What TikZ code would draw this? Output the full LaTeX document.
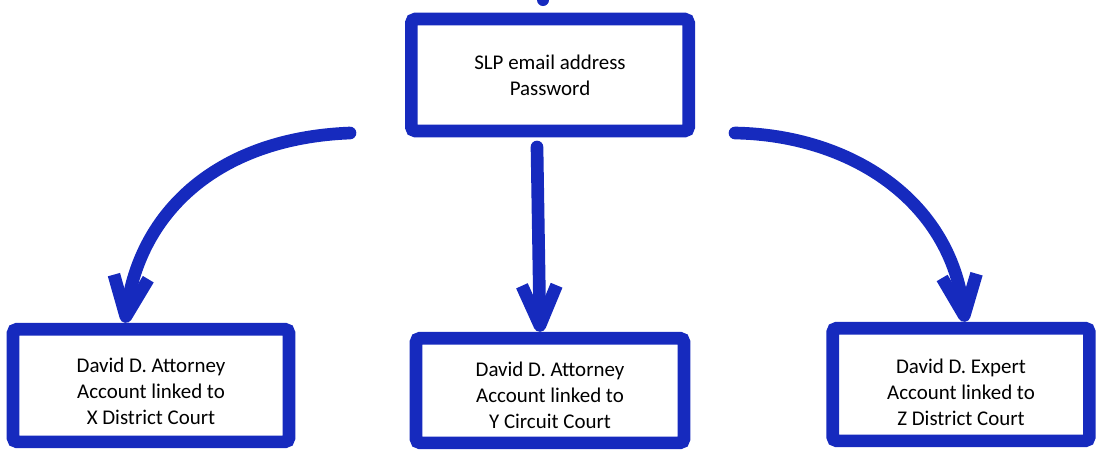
\documentclass[tikz,border=0pt]{standalone}
\usepackage{fontspec}
\setmainfont{Carlito}
\usetikzlibrary{arrows.meta}
\definecolor{inkblue}{RGB}{22,42,190}

\begin{document}
\begin{tikzpicture}[x=0.75pt,y=-0.75pt,
  link/.style={draw=inkblue,line width=9.5pt,line cap=round,
    -{Straight Barb[length=30pt,width=26pt,line join=round]}},
  main node/.style={draw=inkblue,line width=9.5pt,rounded corners=3pt,fill=white,
    text=black,align=center,inner sep=0pt,
    font=\fontsize{15.7}{19.5}\selectfont},
  leaf node/.style={main node,text height=58.5pt}]

  \useasboundingbox (0,0) rectangle (1101,451);

  \node[main node,minimum width=208pt,minimum height=84pt] (login) at (550,75) {SLP email address\\Password};
  \node[leaf node,minimum width=207pt,minimum height=84.5pt] (xcourt) at (151,385.5) {David D. Attorney\\Account linked to\\X District Court};
  \node[leaf node,minimum width=201pt,minimum height=78.5pt,text height=57pt] (ycourt) at (550,390.5) {David D. Attorney\\Account linked to\\Y Circuit Court};
  \node[leaf node,minimum width=192.5pt,minimum height=84.5pt,text height=61.5pt] (zcourt) at (961,384.5) {David D. Expert\\Account linked to\\Z District Court};

  % free ends of the arrows
  \coordinate (lfrom) at (350,133);
  \coordinate (mfrom) at (537,147);
  \coordinate (rfrom) at (735,133);

  \draw[link] (lfrom) .. controls (220,138) and (140,210) .. ([xshift=-19.5pt]xcourt.north);
  \draw[link] (mfrom) -- ([xshift=-7.5pt]ycourt.north);
  \draw[link] (rfrom) .. controls (850,135) and (950,200) .. ([xshift=3pt]zcourt.north);

  \fill[inkblue] (543,0) ellipse (6 and 6);
\end{tikzpicture}
\end{document}
